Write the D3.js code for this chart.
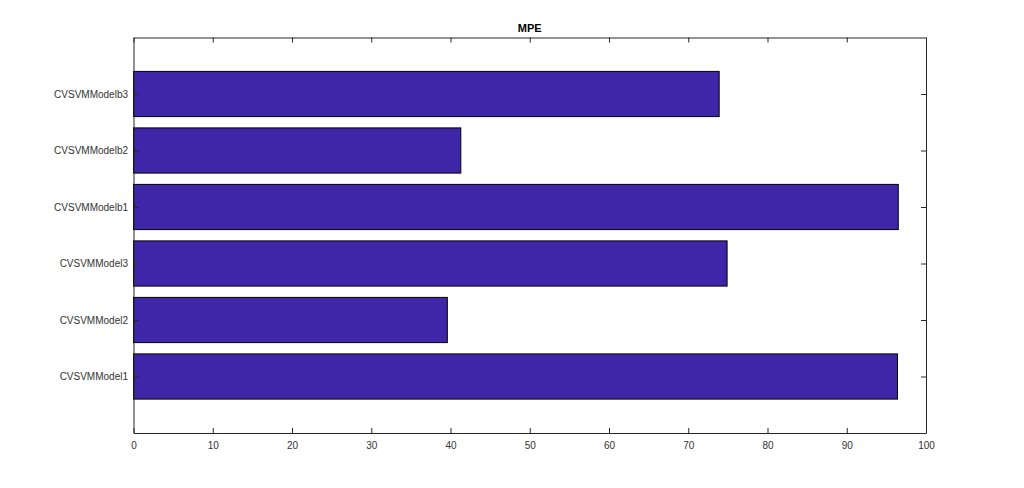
<!DOCTYPE html>
<html>
<head>
<meta charset="utf-8">
<script src="https://cdn.jsdelivr.net/npm/d3@7"></script>
<style>
  body { margin: 0; background: #fff; }
  svg { display: block; }
  .tick text { font-family: "Liberation Sans", Arial, sans-serif; font-size: 10px; fill: #333; }
  .tick line { stroke: #262626; }
</style>
</head>
<body>
<svg id="chart" width="1024" height="488"></svg>
<script>
'use strict';

// data (bottom to top)
const categories = ['CVSVMModel1', 'CVSVMModel2', 'CVSVMModel3', 'CVSVMModelb1', 'CVSVMModelb2', 'CVSVMModelb3'];
const values = [96.4, 39.6, 74.9, 96.5, 41.3, 73.9];
const xTicks = [0, 10, 20, 30, 40, 50, 60, 70, 80, 90, 100];

const svg = d3.select('#chart');
const plotLeft = 133.5, plotRight = 926, plotTop = 37.5, plotBottom = 433;
const barColor = '#3e26a8';
const axisColor = '#262626';

const xScale = d3.scaleLinear().domain([0, 100]).range([plotLeft, plotRight]);
// matlab style numeric category axis, limits [0, 7]
const yScale = d3.scaleLinear().domain([0, categories.length + 1]).range([plotBottom, plotTop]);
const barH = (yScale(0) - yScale(0.8));

// bars
svg.append('g')
    .selectAll('rect')
    .data(values)
    .enter()
    .append('rect')
    .attr('x', xScale(0))
    .attr('y', (d, i) => yScale(i + 1) - barH / 2)
    .attr('width', d => xScale(d) - xScale(0))
    .attr('height', barH)
    .attr('fill', barColor)
    .attr('stroke', '#000')
    .attr('stroke-width', 1);

// bottom axis
const xAxis = d3.axisBottom(xScale).tickValues(xTicks).tickSizeInner(-5).tickSizeOuter(0).tickPadding(9);
svg.append('g')
    .attr('transform', `translate(0,${plotBottom})`)
    .call(xAxis)
    .call(g => g.select('.domain').attr('stroke', axisColor));

// top axis (ticks only)
const xAxisTop = d3.axisTop(xScale).tickValues(xTicks).tickSizeInner(-5).tickSizeOuter(0).tickFormat('');
svg.append('g')
    .attr('transform', `translate(0,${plotTop})`)
    .call(xAxisTop)
    .call(g => g.select('.domain').attr('stroke', axisColor));

// left axis
const yAxis = d3.axisLeft(yScale)
    .tickValues(d3.range(1, categories.length + 1))
    .tickFormat(d => categories[d - 1])
    .tickSizeInner(-5).tickSizeOuter(0).tickPadding(5.5);
svg.append('g')
    .attr('transform', `translate(${plotLeft},0)`)
    .call(yAxis)
    .call(g => g.select('.domain').attr('stroke', axisColor));

// right axis (ticks only)
const yAxisRight = d3.axisRight(yScale)
    .tickValues(d3.range(1, categories.length + 1))
    .tickFormat('')
    .tickSizeInner(-5).tickSizeOuter(0);
svg.append('g')
    .attr('transform', `translate(${plotRight},0)`)
    .call(yAxisRight)
    .call(g => g.select('.domain').attr('stroke', axisColor));

// title
svg.append('text')
    .attr('x', (plotLeft + plotRight) / 2)
    .attr('y', 31.5)
    .attr('text-anchor', 'middle')
    .attr('font-family', '"Liberation Sans", Arial, sans-serif')
    .attr('font-size', 11)
    .attr('font-weight', 'bold')
    .attr('fill', '#000')
    .text('MPE');
</script>
</body>
</html>
